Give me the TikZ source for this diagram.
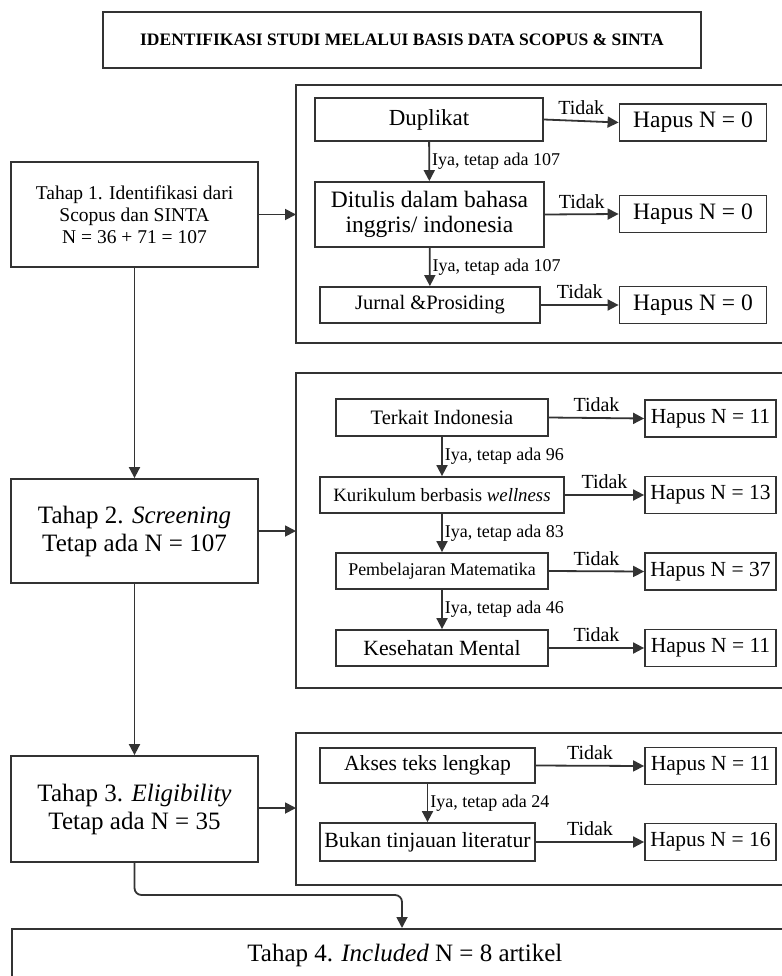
\documentclass[tikz,border=0pt]{standalone}
\usepackage{fontspec}
\setmainfont{Liberation Serif}
\usetikzlibrary{arrows.meta, calc}

\begin{document}
\begin{tikzpicture}[x=1pt, y=-1pt,
	kotak/.style={draw=black!80, line width=1.8pt, align=center, inner sep=0pt},
	panel/.style={draw=black!80, line width=1.8pt},
	panah/.style={draw=black!80, line width=1.8pt, -{Triangle[length=11pt, width=11pt]}},
	label/.style={font=\fontsize{18}{20}\selectfont, inner sep=2pt},
	hapus/.style={kotak, minimum width=131pt, minimum height=37pt, font=\fontsize{21.5}{24}\selectfont}]
	\useasboundingbox (0,0) rectangle (781,976);

	\node[kotak, minimum width=598pt, minimum height=56pt, font=\bfseries\fontsize{17.5}{20}\selectfont] (judul) at (402, 40) {IDENTIFIKASI STUDI MELALUI BASIS DATA SCOPUS \& SINTA};

	% tahap
	\node[kotak, minimum width=247pt, minimum height=105pt, font=\fontsize{19.5}{22}\selectfont] (tahapA) at (134.5, 214.5) {Tahap 1. Identifikasi dari\\ Scopus dan SINTA\\ N = 36 + 71 = 107};
	\node[kotak, minimum width=247pt, minimum height=104pt, font=\fontsize{25}{28}\selectfont] (tahapB) at (134.5, 531) {Tahap 2. \textit{Screening}\\ Tetap ada N = 107};
	\node[kotak, minimum width=247pt, minimum height=106pt, font=\fontsize{25}{28}\selectfont] (tahapC) at (134.5, 809) {Tahap 3. \textit{Eligibility}\\ Tetap ada N = 35};
	\node[kotak, anchor=north west, minimum width=786pt, minimum height=53pt, font=\fontsize{25}{28}\selectfont] (tahapD) at (11, 928) {Tahap 4. \textit{Included} N = 8 artikel};

	% panel
	\draw[panel] (800, 85) -- (296, 85) -- (296, 343) -- (800, 343);
	\draw[panel] (800, 373) -- (296, 373) -- (296, 688) -- (800, 688);
	\draw[panel] (800, 733) -- (296, 733) -- (296, 885) -- (800, 885);
	\coordinate (panelA) at (296, 214.5);
	\coordinate (panelB) at (296, 531);
	\coordinate (panelC) at (296, 808);

	% panel 1
	\node[kotak, minimum width=228pt, minimum height=43pt, font=\fontsize{23}{25}\selectfont] (duplikat) at (429, 119.5) {Duplikat};
	\node[kotak, minimum width=229pt, minimum height=65pt, font=\fontsize{23.5}{25}\selectfont] (ditulis) at (429.5, 214.5) {Ditulis dalam bahasa\\ inggris/ indonesia};
	\node[kotak, minimum width=220pt, minimum height=36pt, font=\fontsize{20.5}{23}\selectfont] (jurnal) at (430, 305) {Jurnal \&Prosiding};
	\node[hapus, minimum width=147pt, font=\fontsize{23.5}{25}\selectfont] (hapusA) at (693, 122.5) {Hapus N = 0};
	\node[hapus, minimum width=147pt, font=\fontsize{23.5}{25}\selectfont] (hapusB) at (693, 214) {Hapus N = 0};
	\node[hapus, minimum width=147pt, font=\fontsize{23.5}{25}\selectfont] (hapusC) at (693, 305) {Hapus N = 0};

	% panel 2
	\node[kotak, minimum width=212pt, minimum height=37pt, font=\fontsize{20.5}{23}\selectfont] (terkait) at (442, 417.5) {Terkait Indonesia};
	\node[kotak, minimum width=244pt, minimum height=36pt, font=\fontsize{18.8}{21}\selectfont] (kurikulum) at (442, 495) {Kurikulum berbasis \textit{wellness}};
	\node[kotak, minimum width=212pt, minimum height=36pt, font=\fontsize{17.9}{20}\selectfont] (pembelajaran) at (442, 571) {Pembelajaran Matematika};
	\node[kotak, minimum width=212pt, minimum height=36pt, font=\fontsize{21.7}{24}\selectfont] (kesehatan) at (442, 648) {Kesehatan Mental};
	\node[hapus] (hapusD) at (710.5, 418.5) {Hapus N = 11};
	\node[hapus] (hapusE) at (710.5, 495) {Hapus N = 13};
	\node[hapus] (hapusF) at (710.5, 571.5) {Hapus N = 37};
	\node[hapus] (hapusG) at (710.5, 648) {Hapus N = 11};

	% panel 3
	\node[kotak, minimum width=215pt, minimum height=35pt, font=\fontsize{21.6}{24}\selectfont] (akses) at (427.5, 765.5) {Akses teks lengkap};
	\node[kotak, minimum width=215pt, minimum height=38pt, font=\fontsize{21.7}{24}\selectfont] (bukan) at (427.5, 842) {Bukan tinjauan literatur};
	\node[hapus] (hapusH) at (710.5, 766) {Hapus N = 11};
	\node[hapus] (hapusI) at (710.5, 842) {Hapus N = 16};

	% alur utama
	\draw[panah] (tahapA) -- (tahapB);
	\draw[panah] (tahapB) -- (tahapC);
	\coordinate (belok) at (402, 895);
	\draw[panah, rounded corners=7pt] (tahapC.south) |- (belok) -- (belok |- tahapD.north);
	\draw[panah] (tahapA.east) -- (panelA);
	\draw[panah] (tahapB.east) -- (panelB);
	\draw[panah] (tahapC.east |- panelC) -- (panelC);

	% cabang
	\draw[panah] (duplikat) -- node[label, right] {Iya, tetap ada 107} (ditulis);
	\draw[panah] (ditulis) -- node[label, right] {Iya, tetap ada 107} (jurnal);
	\draw[panah] (terkait.south -| pembelajaran) -- node[label, right] {Iya, tetap ada 96} (kurikulum);
	\draw[panah] (kurikulum) -- node[label, right] {Iya, tetap ada 83} (pembelajaran);
	\draw[panah] (pembelajaran) -- node[label, right] {Iya, tetap ada 46} (kesehatan);
	\draw[panah] (akses) -- node[label, right] {Iya, tetap ada 24} (bukan);

	\foreach \dari/\ke in {duplikat/hapusA, ditulis/hapusB, jurnal/hapusC, terkait/hapusD, kurikulum/hapusE, pembelajaran/hapusF, kesehatan/hapusG, akses/hapusH, bukan/hapusI}
		\draw[panah] (\dari.east) -- node[label, above=3pt, font=\fontsize{20}{22}\selectfont] {Tidak} (\ke.west);
\end{tikzpicture}
\end{document}
